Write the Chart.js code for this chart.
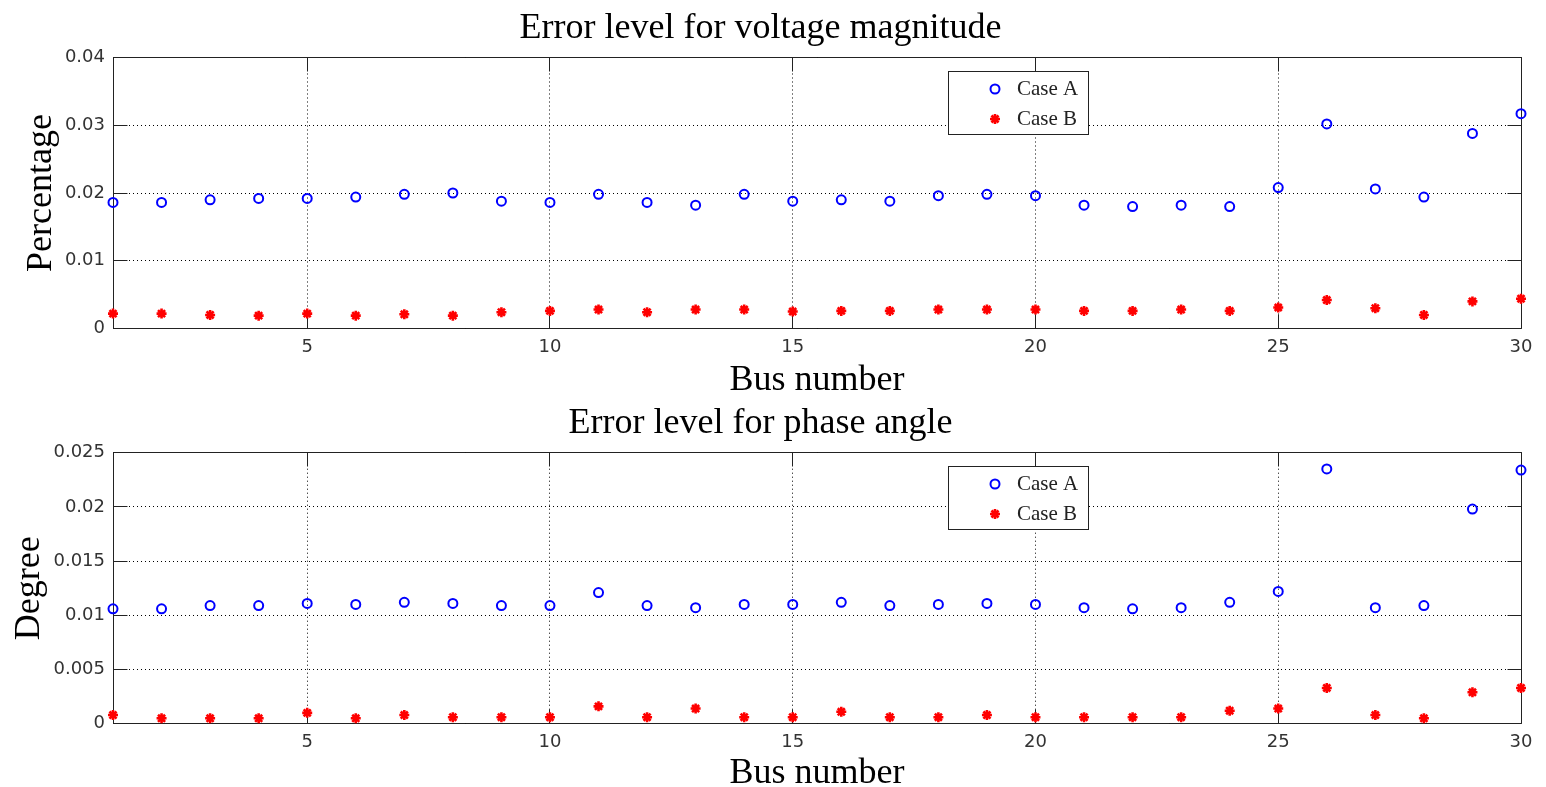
<!DOCTYPE html>
<html>
<head>
<meta charset="utf-8">
<title>Error level</title>
<script src="https://cdn.jsdelivr.net/npm/chart.js@4.4.0/dist/chart.umd.min.js"></script>
<style>
  html, body { margin: 0; padding: 0; background: #fff; }
  canvas { display: block; }
</style>
</head>
<body>
<canvas id="voltage-chart" width="1546" height="394"></canvas>
<canvas id="angle-chart" width="1546" height="393"></canvas>
<script>
const busNumbers = [1, 2, 3, 4, 5, 6, 7, 8, 9, 10, 11, 12, 13, 14, 15,
                    16, 17, 18, 19, 20, 21, 22, 23, 24, 25, 26, 27, 28, 29, 30];

const voltageCaseA = [0.0186, 0.0186, 0.0190, 0.0192, 0.0192, 0.0194, 0.0198, 0.0200, 0.0188, 0.0186,
                      0.0198, 0.0186, 0.0182, 0.0198, 0.0188, 0.0190, 0.0188, 0.0196, 0.0198, 0.0196,
                      0.0182, 0.0180, 0.0182, 0.0180, 0.0208, 0.0302, 0.0206, 0.0194, 0.0288, 0.0317];
const voltageCaseB = [0.0022, 0.0022, 0.0020, 0.0019, 0.0022, 0.0019, 0.0021, 0.0019, 0.0024, 0.0026,
                      0.0028, 0.0024, 0.0028, 0.0028, 0.0025, 0.0026, 0.0026, 0.0028, 0.0028, 0.0028,
                      0.0026, 0.0026, 0.0028, 0.0026, 0.0031, 0.0042, 0.0030, 0.0020, 0.0040, 0.0044];

const angleCaseA = [0.0106, 0.0106, 0.0109, 0.0109, 0.0111, 0.0110, 0.0112, 0.0111, 0.0109, 0.0109,
                    0.0121, 0.0109, 0.0107, 0.0110, 0.0110, 0.0112, 0.0109, 0.0110, 0.0111, 0.0110,
                    0.0107, 0.0106, 0.0107, 0.0112, 0.0122, 0.0235, 0.0107, 0.0109, 0.0198, 0.0234];
const angleCaseB = [0.0008, 0.0005, 0.0005, 0.0005, 0.0010, 0.0005, 0.0008, 0.0006, 0.0006, 0.0006,
                    0.0016, 0.0006, 0.0014, 0.0006, 0.0006, 0.0011, 0.0006, 0.0006, 0.0008, 0.0006,
                    0.0006, 0.0006, 0.0006, 0.0012, 0.0014, 0.0033, 0.0008, 0.0005, 0.0029, 0.0033];

const seriesNames = ['Case A', 'Case B'];

const busTicks = [5, 10, 15, 20, 25, 30];
const voltageTicks = [0, 0.01, 0.02, 0.03, 0.04];
const voltageTickLabels = ['0', '0.01', '0.02', '0.03', '0.04'];
const angleTicks = [0, 0.005, 0.01, 0.015, 0.02, 0.025];
const angleTickLabels = ['0', '0.005', '0.01', '0.015', '0.02', '0.025'];

const SERIF = '"Liberation Serif", "Times New Roman", serif';
const TICK_FONT = '"DejaVu Sans", sans-serif';

// same rounding Chart.js uses for 1px grid lines
const snap = p => Math.round(p - 0.5) + 0.5;

// axes box with short inward tick marks on all four sides
const framePlugin = {
  id: 'frame',
  beforeDatasetsDraw(chart) {
    const {ctx, chartArea: a, scales: {x, y}} = chart;
    const len = 14;
    const l = snap(a.left), r = snap(a.right), t = snap(a.top), b = snap(a.bottom);
    ctx.save();
    ctx.setLineDash([]);
    ctx.strokeStyle = '#222';
    ctx.lineWidth = 1;
    ctx.beginPath();
    x.ticks.forEach(tk => {
      const px = snap(x.getPixelForValue(tk.value));
      ctx.moveTo(px, b); ctx.lineTo(px, b - len);
      ctx.moveTo(px, t); ctx.lineTo(px, t + len);
    });
    y.ticks.forEach(tk => {
      const py = snap(y.getPixelForValue(tk.value));
      ctx.moveTo(l, py); ctx.lineTo(l + len, py);
      ctx.moveTo(r, py); ctx.lineTo(r - len, py);
    });
    ctx.rect(l, t, r - l, b - t);
    ctx.stroke();
    ctx.restore();
  }
};

// boxed legend sitting inside the plot area
const boxLegendPlugin = {
  id: 'boxLegend',
  afterDatasetsDraw(chart, args, opts) {
    const {ctx, chartArea: a} = chart;
    const bx = Math.round(a.left + opts.left), by = Math.round(a.top + opts.top);
    const w = 140, h = 63;
    ctx.save();
    ctx.setLineDash([]);
    ctx.fillStyle = '#fff';
    ctx.fillRect(bx, by, w, h);
    ctx.strokeStyle = '#222';
    ctx.lineWidth = 1;
    ctx.strokeRect(bx + 0.5, by + 0.5, w, h);
    chart.data.datasets.forEach((ds, i) => {
      const cy = by + 18 + i * 30;
      ctx.strokeStyle = ds.borderColor;
      ctx.fillStyle = ds.backgroundColor;
      ctx.lineWidth = ds.borderWidth;
      Chart.helpers.drawPoint(ctx, {
        pointStyle: ds.pointStyle, radius: ds.pointRadius,
        borderWidth: ds.borderWidth, rotation: 0
      }, bx + 47, cy);
      ctx.fillStyle = '#222';
      ctx.font = '21px ' + SERIF;
      ctx.textBaseline = 'middle';
      ctx.textAlign = 'left';
      ctx.fillText(ds.label, bx + 69, cy);
    });
    ctx.restore();
  }
};

function pairs(ys) {
  return busNumbers.map((b, i) => ({x: b, y: ys[i]}));
}

function makeChart(id, s) {
  return new Chart(document.getElementById(id), {
    type: 'scatter',
    data: {
      datasets: [{
        label: seriesNames[0],
        data: pairs(s.caseA),
        pointStyle: 'circle',
        pointRadius: 4.5,
        borderWidth: 2,
        borderColor: '#0000ff',
        backgroundColor: 'rgba(0,0,0,0)',
        clip: false
      }, {
        label: seriesNames[1],
        data: pairs(s.caseB),
        pointStyle: 'star',
        pointRadius: 5,
        borderWidth: 2.6,
        borderColor: '#ff0000',
        backgroundColor: '#ff0000',
        clip: false
      }]
    },
    options: {
      responsive: false,
      animation: false,
      events: [],
      layout: { padding: { left: 0, right: 25, top: 0, bottom: 0 } },
      plugins: {
        legend: { display: false },
        tooltip: { enabled: false },
        title: {
          display: true,
          text: s.title,
          color: '#000',
          font: { family: SERIF, size: 36, weight: 'normal', lineHeight: 1.2 },
          padding: { top: s.titleTop, bottom: s.titleBottom }
        },
        boxLegend: { left: 835, top: 13.5 }
      },
      scales: {
        x: {
          type: 'linear',
          min: 1,
          max: 30,
          afterBuildTicks: sc => { sc.ticks = busTicks.map(v => ({value: v})); },
          afterFit: sc => { sc.height = s.xHeight; },
          grid: { color: '#000', lineWidth: 1, drawTicks: false },
          border: { display: false, dash: [1, 3] },
          ticks: {
            color: '#333',
            padding: 8,
            maxRotation: 0,
            font: { family: TICK_FONT, size: 18 },
            callback: v => String(v)
          },
          title: {
            display: true,
            text: 'Bus number',
            color: '#000',
            font: { family: SERIF, size: 36, weight: 'normal', lineHeight: 1.2 },
            padding: { top: 0, bottom: -8 }
          }
        },
        y: {
          min: 0,
          max: s.yMax,
          afterBuildTicks: sc => { sc.ticks = s.yTicks.map(v => ({value: v})); },
          afterFit: sc => { sc.width = 113; },
          grid: { color: '#000', lineWidth: 1, drawTicks: false },
          border: { display: false, dash: [1, 3] },
          ticks: {
            color: '#333',
            padding: 8,
            font: { family: TICK_FONT, size: 18 },
            callback: (v, i) => s.yTickLabels[i]
          },
          title: {
            display: true,
            text: s.yTitle,
            color: '#000',
            font: { family: SERIF, size: 36, weight: 'normal', lineHeight: 1.2 },
            padding: { top: s.yTitlePad, bottom: 0 }
          }
        }
      }
    },
    plugins: [framePlugin, boxLegendPlugin]
  });
}

makeChart('voltage-chart', {
  title: 'Error level for voltage magnitude',
  caseA: voltageCaseA,
  caseB: voltageCaseB,
  yMax: 0.04,
  yTicks: voltageTicks,
  yTickLabels: voltageTickLabels,
  yTitle: 'Percentage',
  yTitlePad: 20,
  titleTop: 7.4,
  titleBottom: 6.9,
  xHeight: 65.5
});

makeChart('angle-chart', {
  title: 'Error level for phase angle',
  caseA: angleCaseA,
  caseB: angleCaseB,
  yMax: 0.025,
  yTicks: angleTicks,
  yTickLabels: angleTickLabels,
  yTitle: 'Degree',
  yTitlePad: 7.5,
  titleTop: 8.4,
  titleBottom: 7.1,
  xHeight: 63.3
});
</script>
</body>
</html>
